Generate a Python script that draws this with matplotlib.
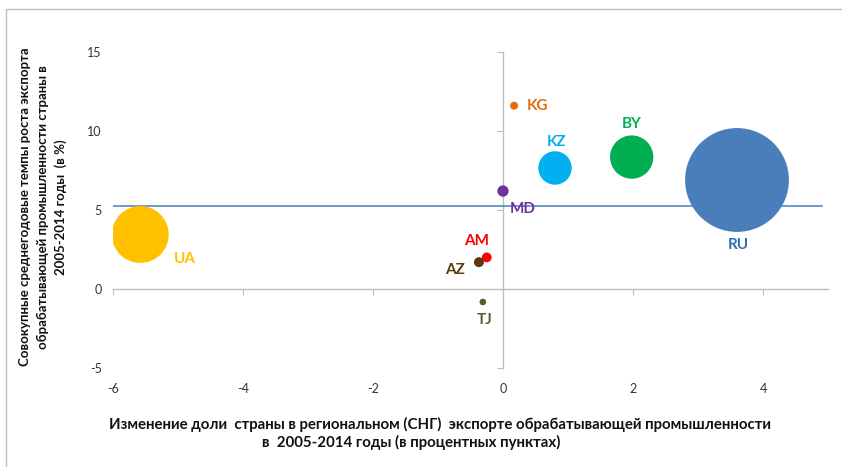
import matplotlib.pyplot as plt
from matplotlib.patches import Rectangle

plt.rcParams['font.family'] = ['Lato', 'DejaVu Sans']

# data
countries = ['UA', 'RU', 'KZ', 'BY', 'KG', 'MD', 'AM', 'AZ', 'TJ']
share_change = [-5.58, 3.60, 0.80, 1.98, 0.17, 0.00, -0.25, -0.37, -0.31]
export_growth = [3.45, 6.90, 7.66, 8.35, 11.60, 6.20, 2.00, 1.70, -0.82]
bubble_size = [8.1, 27.0, 2.8, 4.7, 0.16, 0.32, 0.24, 0.25, 0.11]
colors = ['#FFC000', '#4A7EBB', '#00B0F0', '#00B050', '#E46C0A',
          '#7030A0', '#FF0000', '#5B3A0E', '#4F6228']
label_colors = ['#FFC000', '#2E70B6', '#00B0F0', '#00B050', '#E46C0A',
                '#7030A0', '#FF0000', '#5B3A0E', '#4F6228']
avg_line_x = [-6, 4.9]
avg_line_y = [5.27, 5.27]

x_ticks = [-6, -4, -2, 0, 2, 4]
y_ticks = [-5, 0, 5, 10, 15]

# label offsets in points (dx, dy, ha)
offsets = {
    'UA': (32, -18, 'center'),
    'RU': (1, -47, 'center'),
    'KZ': (1, 19, 'center'),
    'BY': (0, 24, 'center'),
    'KG': (9, 0, 'left'),
    'MD': (14, -13, 'center'),
    'AM': (-7, 12, 'center'),
    'AZ': (-17, -6, 'center'),
    'TJ': (1, -13, 'center'),
}

fig = plt.figure(figsize=(8.42, 4.67), dpi=100)
ax = fig.add_axes([113 / 842, 1 - 368 / 467, 715 / 842, 316 / 467])

ax.plot(avg_line_x, avg_line_y, color='#4A7EBB', lw=1.1, zorder=2)
ax.scatter(share_change, export_growth, s=[v * 207 for v in bubble_size],
           c=colors, linewidths=0, zorder=3)

for name, x, y, col in zip(countries, share_change, export_growth, label_colors):
    dx, dy, ha = offsets[name]
    ax.annotate(name, (x, y), xytext=(dx, dy), textcoords='offset points',
                ha=ha, va='center', color=col, fontsize=11, fontweight='bold',
                zorder=4)

ax.set_xlim(-6, 5)
ax.set_ylim(-5, 15)
ax.set_xticks(x_ticks)
ax.set_yticks(y_ticks)
ax.set_xticklabels([str(t) for t in x_ticks])
ax.set_yticklabels([str(t) for t in y_ticks])

for s in ['left', 'bottom']:
    ax.spines[s].set_visible(False)
ax.spines['right'].set_position(('data', 0))
ax.spines['top'].set_position(('data', 0))
for s in ['right', 'top']:
    ax.spines[s].set_color('#BDBDBD')
    ax.spines[s].set_linewidth(1.0)
    ax.spines[s].set_zorder(1)

ax.tick_params(axis='y', left=False, labelleft=True, right=True, labelright=False,
               direction='in', length=4, color='#BDBDBD', pad=8,
               labelsize=9, labelcolor='#333333')
ax.tick_params(axis='x', bottom=False, labelbottom=True, top=True, labeltop=False,
               direction='in', length=4, color='#BDBDBD', pad=11,
               labelsize=9, labelcolor='#333333')

fig.text(440 / 842, 1 - 424 / 467,
         'Изменение доли  страны в региональном (СНГ)  экспорте обрабатывающей промышленности',
         ha='center', va='center', fontsize=10.8, fontweight='bold', color='#111111')
fig.text(411 / 842, 1 - 442 / 467, 'в  2005-2014 годы (в процентных пунктах)',
         ha='center', va='center', fontsize=10.8, fontweight='bold', color='#111111')

fig.text(43 / 842, 1 - 207 / 467,
         'Совокупные среднегодовые темпы роста экспорта\n'
         'обрабатывающей промышленности страны в\n'
         '2005-2014 годы  (в %)',
         ha='center', va='center', rotation=90, fontsize=9.5, fontweight='bold',
         color='#111111', linespacing=1.55)

fig.add_artist(Rectangle((6 / 842, -0.05), 1.1, 1.05 - 9 / 467,
                         transform=fig.transFigure, fill=False,
                         edgecolor='#BDBDBD', lw=1.0))

fig.savefig('out.png', dpi=100)
